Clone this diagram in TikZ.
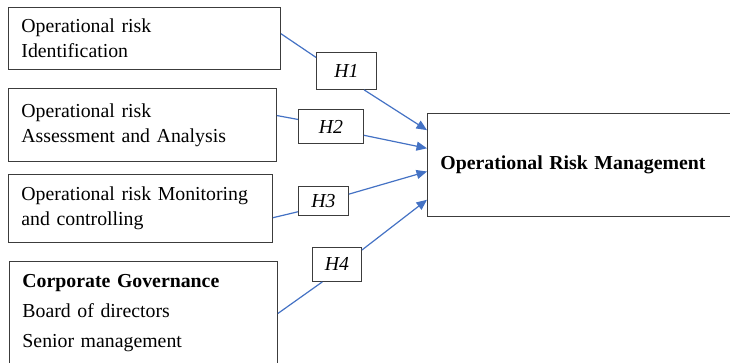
\documentclass[tikz,border=0pt]{standalone}
\usepackage{fontspec}
\setmainfont{Liberation Serif}
\usetikzlibrary{arrows.meta,calc}
\definecolor{linkblue}{HTML}{4472C4}
\definecolor{boxgray}{HTML}{3C3C3C}

\begin{document}
\begin{tikzpicture}[x=1pt,y=-1pt,
  factor/.style={draw=boxgray,line width=0.9pt,anchor=north west,inner xsep=13pt,inner ysep=0pt,align=left,font=\fontsize{19.8}{25}\selectfont},
  hyp/.style={draw=boxgray,line width=0.9pt,anchor=north west,inner sep=0pt,font=\fontsize{19.8}{24}\selectfont\itshape},
  link/.style={draw=linkblue,line width=1.2pt},
  linkarrow/.style={link,-{Triangle[length=10.5pt,width=9pt]}}]
\useasboundingbox (0,0) rectangle (730,362);

% factor boxes
\node[factor,minimum width=272pt,minimum height=62pt,text width=246pt] (idf) at (8,7)
  {Operational risk\\Identification};
\node[factor,minimum width=268pt,minimum height=73pt,text width=242pt] (ass) at (8,88)
  {Operational risk\\Assessment and Analysis};
\node[factor,minimum width=264pt,minimum height=68pt,text width=238pt] (mon) at (8,174)
  {Operational risk Monitoring\\and controlling};
\node[factor,minimum width=268pt,minimum height=104pt,text width=242pt,font=\fontsize{19.8}{30}\selectfont] (gov) at (9,261)
  {\textbf{Corporate Governance}\\Board of directors\\Senior management};

% dependent variable
\node[factor,minimum width=306pt,minimum height=103pt,text width=280pt] (orm) at (427,113)
  {\textbf{Operational Risk Management}};

% hypotheses
\node[hyp,minimum width=60pt,minimum height=37pt] (h1) at (316,52) {H1};
\node[hyp,minimum width=65pt,minimum height=34pt] (h2) at (298,109) {H2};
\node[hyp,minimum width=50pt,minimum height=29pt] (h3) at (298,186) {H3};
\node[hyp,minimum width=49pt,minimum height=34pt] (h4) at (312,247) {H4};

% links
\draw[link] (idf.2) -- (h1.156);
\draw[linkarrow] (h1.-47) -- ($(orm.north west)!0.165!(orm.south west)$);
\draw[link] (ass.4) -- (h2.168);
\draw[linkarrow] (h2.-15) -- ($(orm.north west)!0.34!(orm.south west)$);
\draw[link] (mon.-4) -- (h3.203);
\draw[linkarrow] (h3.15) -- ($(orm.north west)!0.563!(orm.south west)$);
\draw[link] (gov.east) -- (h4.230);
\draw[linkarrow] (h4.30) -- ($(orm.north west)!0.835!(orm.south west)$);

\end{tikzpicture}
\end{document}
